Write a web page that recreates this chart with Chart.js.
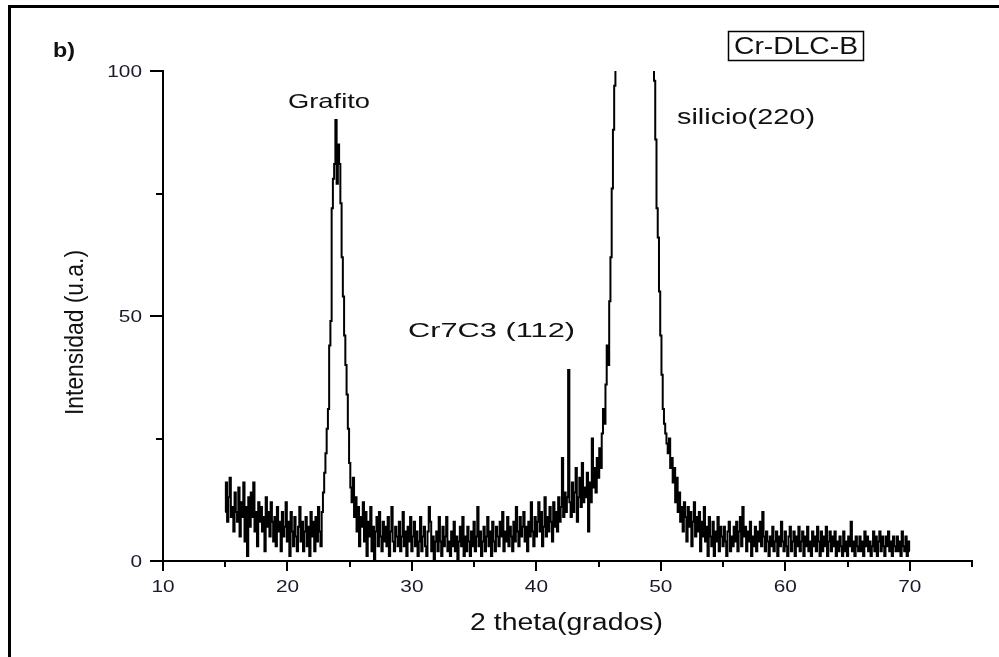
<!DOCTYPE html>
<html>
<head>
<meta charset="utf-8">
<script src="https://cdn.jsdelivr.net/npm/chart.js@4.4.1/dist/chart.umd.min.js"></script>
<style>
  html, body { margin: 0; padding: 0; background: #fff; }
  #wrap { width: 999px; height: 657px; position: relative; }
</style>
</head>
<body>
<div id="wrap"><canvas id="xrd" width="999" height="657"></canvas></div>
<script>
'use strict';

// 2 theta sampling of the scan (degrees)
const angleStart = 15;
const angleStep = 0.1;

// intensity (u.a.), one row per degree (15.0 ... 70.0)
const intensity = [
  10, 16, 8, 13, 17, 9, 11, 6, 14, 10,      // 15
  8, 15, 5, 12, 9, 16, 4, 11, 1, 13,        // 16
  7, 14, 9, 16, 6, 10, 3, 12, 8, 11,        // 17
  6, 9, 2, 13, 7, 10, 5, 12, 8, 4,          // 18
  9, 3, 11, 6, 8, 2, 10, 5, 7, 12,          // 19
  4, 8, 1, 10, 6, 3, 9, 5, 2, 7,            // 20
  11, 4, 8, 2, 6, 9, 3, 7, 1, 10,           // 21
  5, 8, 2, 9, 4, 11, 6, 3, 10, 14,          // 22
  18, 22, 27, 31, 44, 49, 72, 78, 81, 90,   // 23
  77, 85, 81, 73, 62, 54, 46, 40, 34, 27,   // 24
  20, 15, 12, 17, 9, 13, 6, 11, 3, 9,       // 25
  7, 12, 4, 10, 1, 8, 5, 11, 2, 7,          // 26
  0, 6, 9, 3, 10, 5, 2, 8, 4, 7,            // 27
  3, 9, 1, 6, 11, 4, 2, 7, 5, 3,            // 28
  8, 2, 5, 10, 3, 6, 1, 7, 4, 9,            // 29
  2, 5, 8, 3, 6, 1, 4, 9, 2, 5,             // 30
  7, 3, 1, 6, 11, 8, 2, 5, 0, 4,            // 31
  6, 2, 9, 4, 1, 7, 3, 5, 9, 2,             // 32
  4, 1, 6, 3, 8, 2, 5, 0, 4, 7,             // 33
  3, 9, 1, 5, 2, 7, 4, 1, 6, 3,             // 34
  8, 2, 5, 11, 3, 6, 1, 4, 7, 2,            // 35
  5, 9, 3, 6, 1, 8, 4, 2, 7, 5,             // 36
  3, 8, 5, 10, 2, 6, 4, 9, 3, 7,            // 37
  5, 2, 8, 4, 11, 6, 3, 9, 5, 7,            // 38
  10, 4, 7, 2, 8, 5, 12, 6, 3, 9,           // 39
  5, 8, 12, 6, 10, 3, 7, 13, 5, 9,          // 40
  6, 11, 8, 4, 12, 7, 10, 6, 13, 8,         // 41
  11, 21, 9, 14, 10, 13, 39, 12, 9, 16,     // 42
  10, 14, 19, 8, 13, 17, 11, 20, 12, 15,    // 43
  13, 18, 6, 16, 12, 25, 15, 19, 14, 21,    // 44
  17, 23, 19, 26, 31, 28, 36, 44, 40, 53,   // 45
  62, 76, 88, 97, 130, 180, 240, 300, 350, 400,     // 46
  450, 500, 520, 540, 560, 570, 560, 540, 520, 500, // 47
  480, 460, 450, 460, 480, 520, 600, 700, 850, 1000, // 48
  900, 700, 450, 260, 160, 98, 86, 72, 66, 55,      // 49
  46, 38, 31, 28, 26, 24, 22, 25, 19, 21,   // 50
  16, 19, 12, 17, 10, 14, 8, 11, 6, 12,     // 51
  9, 4, 11, 7, 10, 3, 8, 12, 5, 9,          // 52
  6, 10, 2, 8, 5, 11, 4, 7, 1, 9,           // 53
  5, 3, 8, 1, 6, 4, 9, 2, 7, 5,             // 54
  3, 7, 4, 1, 6, 8, 2, 5, 3, 7,             // 55
  4, 8, 2, 6, 9, 3, 11, 5, 7, 2,            // 56
  6, 4, 8, 1, 5, 3, 7, 2, 6, 4,             // 57
  8, 3, 10, 5, 2, 6, 4, 1, 5, 3,            // 58
  7, 2, 4, 6, 1, 5, 3, 8, 4, 2,             // 59
  6, 3, 1, 5, 7, 2, 4, 6, 1, 5,             // 60
  3, 7, 2, 4, 6, 1, 5, 3, 7, 2,             // 61
  4, 1, 6, 3, 5, 2, 7, 4, 1, 6,             // 62
  2, 5, 3, 7, 1, 4, 6, 2, 5, 3,             // 63
  6, 1, 4, 2, 5, 3, 1, 6, 2, 4,             // 64
  1, 5, 3, 8, 2, 4, 1, 5, 3, 2,             // 65
  5, 2, 4, 1, 6, 3, 5, 2, 4, 1,             // 66
  3, 6, 2, 5, 1, 4, 6, 2, 5, 3,             // 67
  1, 5, 3, 6, 2, 4, 1, 5, 3, 2,             // 68
  5, 2, 4, 1, 6, 3, 2, 5, 1, 4,             // 69
  2                                         // 70
];

const xMajorTicks = [10, 20, 30, 40, 50, 60, 70];
const xMinorTicks = [15, 25, 35, 45, 55, 65, 75];
const yMajorTicks = [0, 50, 100];
const yMinorTicks = [25, 75];
const xTickLabels = ['10', '20', '30', '40', '50', '60', '70'];
const yTickLabels = ['0', '50', '100'];

const xTitle = '2 theta(grados)';
const yTitle = 'Intensidad (u.a.)';
const panelLabel = 'b)';
const sampleName = 'Cr-DLC-B';
const peakNames = ['Grafito', 'Cr7C3 (112)', 'silicio(220)'];

const points = intensity.map((v, i) => ({ x: +(angleStart + i * angleStep).toFixed(1), y: v }));

// text in the original is a horizontally stretched bitmap, so draw it stretched too
function stretchedText(ctx, text, x, y, font, opts) {
  opts = opts || {};
  ctx.save();
  ctx.font = font;
  ctx.fillStyle = opts.color || '#111';
  ctx.textBaseline = 'alphabetic';
  ctx.textAlign = 'left';
  const w = ctx.measureText(text).width;
  const sx = opts.width ? opts.width / w : (opts.sx || 1.3);
  const sy = opts.sy || 1;
  ctx.translate(x, y);
  if (opts.rotate) ctx.rotate(-Math.PI / 2);
  ctx.scale(sx, sy);
  let off = 0;
  if (opts.align === 'right') off = -w;
  if (opts.align === 'center') off = -w / 2;
  ctx.fillText(text, off, 0);
  ctx.restore();
}

const decorations = {
  id: 'decorations',
  afterDraw(chart) {
    const ctx = chart.ctx;
    const xs = chart.scales.x, ys = chart.scales.y;
    const area = chart.chartArea;
    ctx.save();
    ctx.fillStyle = '#000';
    // picture frame (left and top only)
    ctx.fillRect(8, 5, 991, 3);
    ctx.fillRect(8, 5, 3, 652);

    // tick marks
    xMajorTicks.forEach(v => { const p = Math.round(xs.getPixelForValue(v)); ctx.fillRect(p - 1, area.bottom, 2, 10); });
    xMinorTicks.forEach(v => { const p = Math.round(xs.getPixelForValue(v)); ctx.fillRect(p - 1, area.bottom, 2, 6); });
    yMajorTicks.forEach(v => { const p = Math.round(ys.getPixelForValue(v)); ctx.fillRect(area.left - 13, p - 1, 13, 2); });
    yMinorTicks.forEach(v => { const p = Math.round(ys.getPixelForValue(v)); ctx.fillRect(area.left - 7, p - 1, 7, 2); });
    ctx.restore();

    // tick labels
    const tickFont = '16px "Liberation Sans", Arial, sans-serif';
    xMajorTicks.forEach((v, i) => stretchedText(ctx, xTickLabels[i], xs.getPixelForValue(v), 592, tickFont, { align: 'center', sx: 1.3, color: '#1a1a2a' }));
    yMajorTicks.forEach((v, i) => stretchedText(ctx, yTickLabels[i], 142, ys.getPixelForValue(v) + 6, tickFont, { align: 'right', sx: 1.3, color: '#1a1a2a' }));

    // axis titles
    stretchedText(ctx, xTitle, 470, 630, '23px "Liberation Sans", Arial, sans-serif', { width: 193 });
    stretchedText(ctx, yTitle, 83, 415, '22px "Liberation Sans", Arial, sans-serif', { width: 165, sy: 1.2, rotate: true });

    // annotations
    stretchedText(ctx, panelLabel, 53, 57, 'bold 20px "Liberation Sans", Arial, sans-serif', { width: 22 });
    stretchedText(ctx, peakNames[0], 288, 108, '21px "Liberation Sans", Arial, sans-serif', { width: 82 });
    stretchedText(ctx, peakNames[1], 408, 337, '21px "Liberation Sans", Arial, sans-serif', { width: 167 });
    stretchedText(ctx, peakNames[2], 677, 124, '22px "Liberation Sans", Arial, sans-serif', { width: 138 });
    stretchedText(ctx, sampleName, 734, 54, '23px "Liberation Sans", Arial, sans-serif', { width: 124 });
    ctx.save();
    ctx.strokeStyle = '#000';
    ctx.lineWidth = 1.5;
    ctx.strokeRect(728.5, 31.5, 135, 29);
    ctx.restore();
  }
};

const chart = new Chart(document.getElementById('xrd').getContext('2d'), {
  type: 'line',
  data: {
    datasets: [{
      data: points,
      borderColor: '#000',
      borderWidth: 2,
      pointRadius: 0,
      stepped: 'middle',
      tension: 0,
      fill: false
    }]
  },
  plugins: [decorations],
  options: {
    responsive: false,
    animation: false,
    events: [],
    layout: { padding: { left: 163, right: 27, top: 71, bottom: 96 } },
    plugins: { legend: { display: false }, tooltip: { enabled: false } },
    scales: {
      x: {
        type: 'linear',
        min: 10,
        max: 75,
        ticks: { display: false },
        grid: { display: false },
        border: { display: true, color: '#000', width: 2 },
        afterFit: s => { s.height = 0; }
      },
      y: {
        type: 'linear',
        min: 0,
        max: 100,
        ticks: { display: false },
        grid: { display: false },
        border: { display: true, color: '#000', width: 2 },
        afterFit: s => { s.width = 0; }
      }
    }
  }
});
</script>
</body>
</html>
